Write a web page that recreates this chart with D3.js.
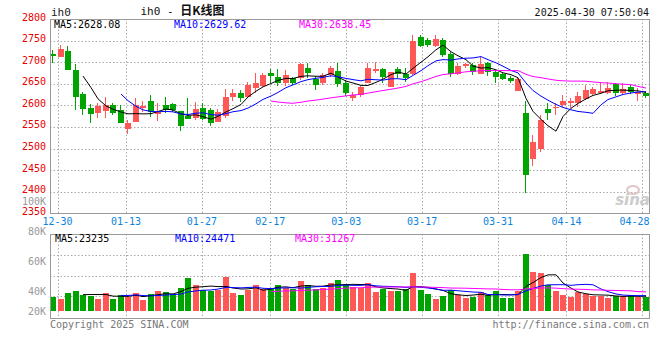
<!DOCTYPE html>
<html>
<head>
<meta charset="utf-8">
<script src="https://cdn.jsdelivr.net/npm/d3@7/dist/d3.min.js"></script>
<style>
  body { margin: 0; background: #fff; }
  svg { display: block; font-family: "DejaVu Sans Mono", monospace; }
</style>
</head>
<body>
<svg width="660" height="360"></svg>
<script>
// trading days shown (12-27 .. 04-29)
const dates = [
  '12-27','12-30','12-31',
  '01-02','01-03','01-06','01-07','01-08','01-09','01-10','01-13','01-14','01-15','01-16','01-17',
  '01-20','01-21','01-22','01-23','01-24','01-27',
  '02-05','02-06','02-07','02-10','02-11','02-12','02-13','02-14','02-17','02-18','02-19','02-20','02-21',
  '02-24','02-25','02-26','02-27','02-28',
  '03-03','03-04','03-05','03-06','03-07','03-10','03-11','03-12','03-13','03-14','03-17','03-18','03-19',
  '03-20','03-21','03-24','03-25','03-26','03-27','03-28','03-31',
  '04-01','04-02','04-03','04-07','04-08','04-09','04-10','04-11','04-14','04-15','04-16','04-17','04-18',
  '04-21','04-22','04-23','04-24','04-25','04-28','04-29'
];

const open = [
  2719,2712,2726,2682,2626,2593,2582,2587,2601,2589,2545,2562,2593,2611,2579,2601,2603,2588,2575,2570,
  2595,2589,2562,2575,2620,2629,2619,2640,2645,2676,2666,2652,2663,2663,2686,2660,2652,2670,2680,2651,
  2618,2624,2652,2680,2684,2643,2684,2673,2672,2758,2752,2738,2751,2719,2673,2691,2694,2673,2697,2678,
  2673,2664,2633,2583,2476,2499,2591,2593,2601,2606,2606,2615,2626,2629,2629,2649,2628,2643,2626,2629
];
const high = [
  2728,2740,2737,2695,2630,2603,2605,2620,2605,2601,2566,2616,2611,2624,2605,2620,2606,2588,2616,2608,
  2605,2593,2591,2637,2637,2636,2655,2674,2674,2684,2684,2682,2666,2699,2699,2668,2674,2690,2697,2659,
  2632,2645,2699,2701,2687,2678,2688,2686,2762,2764,2756,2764,2755,2724,2697,2697,2697,2711,2700,2682,
  2676,2668,2666,2609,2531,2578,2605,2605,2624,2616,2632,2647,2643,2655,2655,2652,2651,2647,2640,2632
];
const low = [
  2697,2712,2683,2589,2578,2558,2571,2570,2578,2560,2534,2562,2585,2572,2564,2583,2585,2541,2568,2566,
  2566,2552,2562,2570,2611,2608,2616,2628,2643,2651,2645,2645,2647,2659,2663,2636,2647,2666,2642,2622,
  2611,2619,2651,2676,2652,2643,2663,2655,2670,2735,2736,2735,2713,2665,2670,2686,2670,2673,2668,2652,
  2659,2651,2633,2396,2460,2493,2566,2578,2596,2593,2596,2612,2624,2628,2626,2622,2626,2626,2611,2616
];
const close = [
  2714,2730,2683,2620,2592,2581,2599,2601,2582,2560,2560,2601,2598,2585,2585,2589,2589,2553,2568,2591,
  2568,2560,2585,2620,2629,2616,2647,2652,2670,2668,2652,2670,2651,2695,2674,2647,2670,2687,2649,2629,
  2624,2642,2687,2684,2666,2677,2672,2664,2749,2738,2740,2753,2717,2673,2691,2695,2678,2695,2678,2666,
  2660,2656,2660,2439,2516,2566,2583,2597,2609,2611,2622,2636,2637,2634,2640,2628,2638,2632,2630,2622
];
const volume = [
  22600,19400,29000,32300,25800,23700,19400,29000,19400,24700,22600,29000,17700,27400,32300,30600,26900,37100,53200,41900,
  33900,32300,32700,54800,29000,25800,33400,41900,35000,37100,41900,36000,35000,48400,41500,35500,37100,44700,49500,43100,
  37600,36000,44700,30600,34400,32300,32300,34400,60800,33400,26900,18900,23700,33400,25300,21000,22600,30200,24700,32300,
  20500,20500,31100,91500,62900,61300,41500,31800,25300,22100,30200,26900,23700,23700,20500,23700,23700,25300,22600,21500
];

const dateTicks = ['12-30','01-13','01-27','02-17','03-03','03-17','03-31','04-14','04-28'];
const priceTicks = [2800, 2750, 2700, 2650, 2600, 2550, 2500, 2450, 2400, 2350];
const volTicks = [100000, 80000, 60000, 40000, 20000];
const maPeriods = [5, 10, 30];
const maColors = ['#000', '#00f', '#f0f'];
const priceMaText = ['MA5:2628.08', 'MA10:2629.62', 'MA30:2638.45'];
const volMaText = ['MA5:23235', 'MA10:24471', 'MA30:31267'];

const UP = '#ff5656';
const DOWN = '#00a400';
const FRAME = '#999';
const GRID = '#aaa';

const svg = d3.select('svg');
const left = 50, right = 650;

const x = d3.scaleBand().domain(dates).range([left, right])
  .paddingInner(0.2).paddingOuter(0.1).align(0);
const xGrid = d3.scalePoint().domain(dates).range([left, right]);
const y = d3.scaleLinear().domain([2350, 2800]).range([213.3, 19]);
const yVol = d3.scaleLinear().domain([0, 123000]).range([310.7, 234.3]);
const yVolLabel = d3.scaleLinear().domain([40000, 100000]).range([291, 201]);

const candles = dates.map((d, i) => ({
  date: d, open: open[i], high: high[i], low: low[i], close: close[i], volume: volume[i]
}));

function movingAvg(values, n) {
  return values.map((v, i) => i < n - 1 ? null : d3.mean(values.slice(i - n + 1, i + 1)));
}
const crisp = v => Math.round(v) + 0.5;
const bx = d => Math.round(x(d));

// ---- grids ----
const grid = svg.append('g').attr('stroke', GRID).attr('stroke-dasharray', '1.5,2').attr('fill', 'none');
priceTicks.slice(1, -1).forEach(p => {
  grid.append('line').attr('x1', left).attr('x2', right - 1)
    .attr('y1', crisp(y(p))).attr('y2', crisp(y(p)));
});
[255, 275.7, 296.3].forEach(v => {
  grid.append('line').attr('x1', left).attr('x2', right - 1)
    .attr('y1', crisp(v)).attr('y2', crisp(v));
});
dateTicks.forEach(d => {
  const gx = crisp(xGrid(d));
  grid.append('line').attr('x1', gx).attr('x2', gx).attr('y1', 19).attr('y2', 213);
  grid.append('line').attr('x1', gx).attr('x2', gx).attr('y1', 234).attr('y2', 318);
});

// ---- candles ----
const candleG = svg.append('g').attr('shape-rendering', 'crispEdges');
candles.forEach(c => {
  const color = c.close >= c.open ? UP : DOWN;
  const cx = bx(c.date) + 2.5;
  candleG.append('line')
    .attr('x1', cx).attr('x2', cx)
    .attr('y1', y(c.high)).attr('y2', y(c.low))
    .attr('stroke', color);
  const top = y(Math.max(c.open, c.close));
  const h = Math.max(1, y(Math.min(c.open, c.close)) - top);
  candleG.append('rect')
    .attr('x', bx(c.date)).attr('y', top)
    .attr('width', x.bandwidth()).attr('height', h)
    .attr('fill', color);
});

// ---- volume bars ----
candles.forEach(c => {
  candleG.append('rect')
    .attr('x', bx(c.date)).attr('y', yVol(c.volume))
    .attr('width', x.bandwidth()).attr('height', yVol(0) - yVol(c.volume))
    .attr('fill', c.close >= c.open ? UP : DOWN);
});

// ---- moving averages ----
maPeriods.forEach((n, k) => {
  const pm = movingAvg(close, n);
  const vm = movingAvg(volume, n);
  const linePrice = d3.line()
    .defined(d => d[1] != null)
    .x(d => bx(d[0]) + 3)
    .y(d => y(d[1]));
  const lineVol = d3.line()
    .defined(d => d[1] != null)
    .x(d => bx(d[0]) + 3)
    .y(d => yVol(d[1]));
  svg.append('path')
    .datum(dates.map((d, i) => [d, pm[i]]))
    .attr('d', linePrice)
    .attr('fill', 'none').attr('stroke', maColors[k]).attr('stroke-width', 1);
  svg.append('path')
    .datum(dates.map((d, i) => [d, vm[i]]))
    .attr('d', lineVol)
    .attr('fill', 'none').attr('stroke', maColors[k]).attr('stroke-width', 1);
});

// ---- frames ----
const frame = svg.append('g').attr('fill', 'none').attr('stroke', FRAME).attr('shape-rendering', 'crispEdges');
frame.append('rect').attr('x', 50.5).attr('y', 19.5).attr('width', 599).attr('height', 194);
frame.append('rect').attr('x', 50.5).attr('y', 234.5).attr('width', 599).attr('height', 84);

// ---- axis labels ----
priceTicks.forEach(p => {
  svg.append('text')
    .attr('x', 46).attr('y', y(p) + 1.5)
    .attr('text-anchor', 'end')
    .attr('font-size', '10px')
    .attr('fill', '#e60000')
    .text(p);
});
volTicks.forEach(v => {
  svg.append('text')
    .attr('x', 46).attr('y', Math.min(yVolLabel(v), 311) + 3.5)
    .attr('text-anchor', 'end')
    .attr('font-size', '10px')
    .attr('fill', '#999')
    .text((v / 1000) + 'K');
});
dateTicks.forEach(d => {
  const cx = Math.min(xGrid(d), 634.5);
  svg.append('text')
    .attr('x', cx).attr('y', 225)
    .attr('text-anchor', 'middle')
    .attr('font-size', '10px')
    .attr('fill', '#0b84e0')
    .text(d);
});

// ---- legends ----
const legendX = [54, 174, 299];
priceMaText.forEach((t, k) => {
  svg.append('text').attr('x', legendX[k]).attr('y', 27.5)
    .attr('font-size', '10px').attr('fill', maColors[k]).text(t);
});
volMaText.forEach((t, k) => {
  svg.append('text').attr('x', [55, 175, 295][k]).attr('y', 242)
    .attr('font-size', '10px').attr('fill', maColors[k]).text(t);
});

// ---- header / footer ----
svg.append('text').attr('x', 51).attr('y', 16)
  .attr('font-size', '11px').attr('fill', '#222').text('ih0');
const title = svg.append('text').attr('x', 140.5).attr('y', 15).attr('fill', '#111');
title.append('tspan').attr('font-size', '11px').text('ih0 - ');
title.append('tspan')
  .attr('font-family', '"Noto Sans CJK SC", sans-serif')
  .attr('font-weight', 'bold')
  .attr('font-size', '12px')
  .text('日K线图');
svg.append('text').attr('x', 649).attr('y', 15.5)
  .attr('text-anchor', 'end').attr('font-size', '10px').attr('fill', '#111')
  .text('2025-04-30 07:50:04');
svg.append('text').attr('x', 50).attr('y', 327.5)
  .attr('font-size', '10px').attr('fill', '#777').text('Copyright 2025 SINA.COM');
svg.append('text').attr('x', 649).attr('y', 327.5)
  .attr('text-anchor', 'end').attr('font-size', '10px').attr('fill', '#777')
  .text('http://finance.sina.com.cn');

// sina watermark
svg.append('ellipse').attr('cx', 633).attr('cy', 190).attr('rx', 6).attr('ry', 4)
  .attr('fill', 'none').attr('stroke', '#e0c8c8').attr('stroke-width', 2);
svg.append('text').attr('x', 650).attr('y', 205)
  .attr('text-anchor', 'end')
  .attr('font-family', '"DejaVu Sans", sans-serif')
  .attr('font-style', 'italic').attr('font-weight', 'bold')
  .attr('font-size', '15px').attr('fill', '#ccc')
  .text('sina');
</script>
</body>
</html>
